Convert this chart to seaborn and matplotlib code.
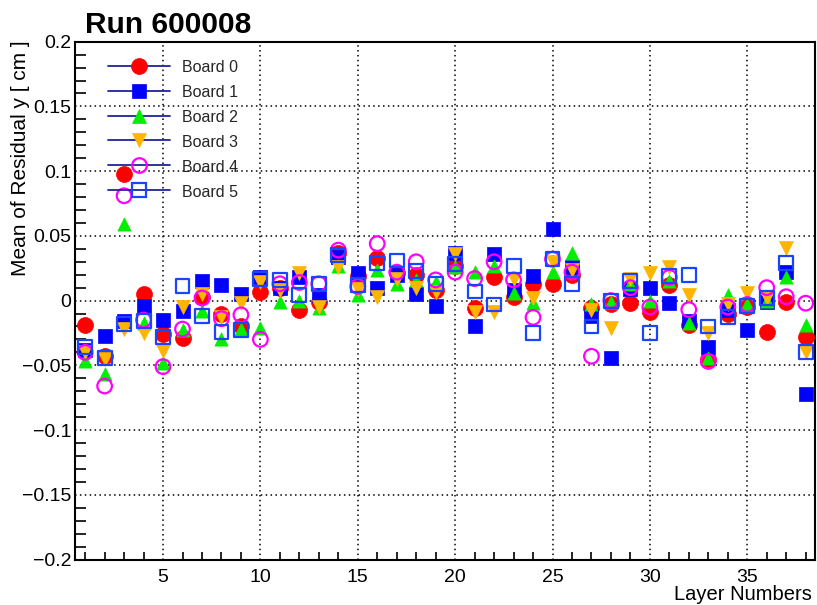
import numpy as np
import pandas as pd
import seaborn as sns
import matplotlib
matplotlib.use("Agg")
import matplotlib.pyplot as plt
from matplotlib.lines import Line2D
from matplotlib.ticker import MultipleLocator, FixedLocator, FixedFormatter

layers = list(range(1, 39))

board0 = [-0.019, -0.043, 0.098, 0.005, -0.026, -0.029, 0.003, -0.010, -0.020, 0.007,
          0.010, -0.007, -0.001, 0.037, 0.019, 0.033, 0.021, 0.020, 0.008, 0.027,
          -0.006, 0.018, 0.003, 0.013, 0.013, 0.020, -0.006, -0.003, -0.002, -0.009,
          0.012, -0.019, -0.045, -0.010, -0.005, -0.024, -0.001, -0.028]
board1 = [-0.038, -0.027, -0.016, -0.004, -0.015, -0.008, 0.015, 0.012, 0.005, 0.018,
          0.010, 0.018, 0.004, 0.034, 0.021, 0.010, 0.020, 0.005, -0.004, 0.037,
          -0.020, 0.036, 0.008, 0.019, 0.055, 0.026, -0.012, -0.044, 0.009, 0.010,
          -0.002, -0.016, -0.036, -0.007, -0.023, -0.001, 0.022, -0.072]
board2 = [-0.047, -0.057, 0.059, -0.017, -0.048, -0.023, -0.008, -0.030, -0.022, -0.021,
          -0.001, 0.000, -0.006, 0.027, 0.004, 0.024, 0.013, 0.016, 0.014, 0.026,
          0.022, 0.027, 0.006, -0.002, 0.022, 0.037, -0.003, -0.001, 0.013, 0.000,
          0.015, -0.017, -0.044, 0.004, -0.003, 0.000, 0.018, -0.019]
board3 = [-0.040, -0.045, -0.022, -0.025, -0.039, -0.005, 0.005, -0.013, -0.002, 0.014,
          0.008, 0.021, -0.005, 0.026, 0.009, 0.003, 0.017, 0.010, 0.007, 0.036,
          -0.009, -0.009, 0.017, 0.002, 0.030, 0.024, -0.007, -0.021, 0.017, 0.021,
          0.026, 0.004, -0.025, -0.003, 0.006, 0.002, 0.041, -0.040]
board4 = [-0.040, -0.066, 0.081, -0.015, -0.051, -0.022, 0.002, -0.014, -0.011, -0.030,
          0.013, 0.014, 0.013, 0.039, 0.011, 0.044, 0.022, 0.030, 0.016, 0.022,
          0.017, 0.030, 0.016, -0.013, 0.032, 0.022, -0.043, 0.000, 0.010, -0.005,
          0.018, -0.007, -0.047, -0.005, -0.003, 0.010, 0.003, -0.002]
board5 = [-0.036, -0.044, -0.018, -0.016, -0.028, 0.011, -0.012, -0.024, -0.023, 0.017,
          0.016, 0.004, 0.013, 0.035, 0.012, 0.029, 0.031, 0.023, 0.013, 0.028,
          0.007, -0.003, 0.027, -0.025, 0.032, 0.013, -0.020, 0.000, 0.015, -0.025,
          0.019, 0.020, -0.020, -0.013, -0.004, 0.002, 0.029, -0.040]

board_names = ["Board 0", "Board 1", "Board 2", "Board 3", "Board 4", "Board 5"]
board_values = [board0, board1, board2, board3, board4, board5]

y_ticks = [-0.2, -0.15, -0.1, -0.05, 0, 0.05, 0.1, 0.15, 0.2]
y_tick_labels = ["\u22120.2", "\u22120.15", "\u22120.1", "\u22120.05", "0", "0.05", "0.1", "0.15", "0.2"]
x_ticks = [5, 10, 15, 20, 25, 30, 35]
x_tick_labels = ["5", "10", "15", "20", "25", "30", "35"]

title = "Run 600008"
ylabel = "Mean of Residual y [ cm ]"
xlabel = "Layer Numbers"

# styles (marker, face, edge, size, linewidth)
styles = [
    dict(marker="o", facecolor="#ff0000", edgecolor="#ff0000", ms=11.5, lw=0.5),
    dict(marker="s", facecolor="#0000ff", edgecolor="#0000ff", ms=10.5, lw=0.5),
    dict(marker="^", facecolor="#00ee00", edgecolor="#00ee00", ms=9.5, lw=0.5),
    dict(marker="v", facecolor="#ffb400", edgecolor="#ffb400", ms=10.0, lw=0.5),
    dict(marker="o", facecolor="none", edgecolor="#ff00ff", ms=10.5, lw=1.6),
    dict(marker="s", facecolor="none", edgecolor="#1a45ff", ms=10.0, lw=1.6),
]

sns.set_theme(style="white")
plt.rcParams["font.family"] = ["Liberation Sans", "DejaVu Sans"]
plt.rcParams["axes.unicode_minus"] = True

fig = plt.figure(figsize=(8.17, 6.05), dpi=100)
ax = fig.add_axes([75.4 / 817, (605 - 559.5) / 605, 740 / 817, 517.8 / 605])

for name, vals, st in zip(board_names, board_values, styles):
    df = pd.DataFrame({"layer": layers, "value": vals})
    sns.scatterplot(data=df, x="layer", y="value", ax=ax, marker=st["marker"],
                    s=st["ms"] ** 2, facecolors=st["facecolor"], edgecolor=st["edgecolor"],
                    linewidth=st["lw"], legend=False, zorder=3)

ax.set_xlim(0.5, 38.5)
ax.set_ylim(-0.2, 0.2)

ax.xaxis.set_major_locator(FixedLocator(x_ticks))
ax.xaxis.set_major_formatter(FixedFormatter(x_tick_labels))
ax.xaxis.set_minor_locator(MultipleLocator(1))
ax.yaxis.set_major_locator(FixedLocator(y_ticks))
ax.yaxis.set_major_formatter(FixedFormatter(y_tick_labels))
ax.yaxis.set_minor_locator(MultipleLocator(0.01))

ax.tick_params(axis="both", which="both", direction="in", color="black",
               labelcolor="black", labelsize=14, top=False, right=False)
ax.tick_params(axis="y", which="major", length=16, width=1.4, pad=3)
ax.tick_params(axis="y", which="minor", length=8, width=1.2, left=True)
ax.tick_params(axis="x", which="major", length=12, width=1.4, pad=7)
ax.tick_params(axis="x", which="minor", length=6, width=1.2, bottom=True)

ax.grid(True, which="major", color="black", linestyle=(0, (1, 2.2)), linewidth=1.1)
ax.set_axisbelow(True)
for sp in ax.spines.values():
    sp.set_visible(True)
    sp.set_color("black")
    sp.set_linewidth(1.5)

ax.set_xlabel("")
ax.set_ylabel("")
fig.text(812 / 817, 1 - 594 / 605, xlabel, ha="right", va="center", fontsize=14.5, color="black")
fig.text(21 / 817, 1 - 40 / 605, ylabel, ha="center", va="top", rotation=90, fontsize=15, color="black")
fig.text(85 / 817, 1 - 33 / 605, title, ha="left", va="baseline", fontsize=21.5,
         fontweight="bold", color="black")

handles = []
for st in styles:
    handles.append(Line2D([0], [0], color="#22229a", linewidth=1.3, marker=st["marker"],
                          markersize=st["ms"], markerfacecolor=st["facecolor"],
                          markeredgecolor=st["edgecolor"], markeredgewidth=st["lw"] if st["facecolor"] == "none" else 0.5))
leg = ax.legend(handles, board_names, loc="upper left", frameon=False,
                bbox_to_anchor=(108 / 817, 1 - 59.5 / 605), bbox_transform=fig.transFigure,
                fontsize=11.5, handlelength=3.9, handletextpad=0.75, labelspacing=0.58,
                handleheight=1.0, borderpad=0, borderaxespad=0)

fig.savefig("out.png", dpi=100)
